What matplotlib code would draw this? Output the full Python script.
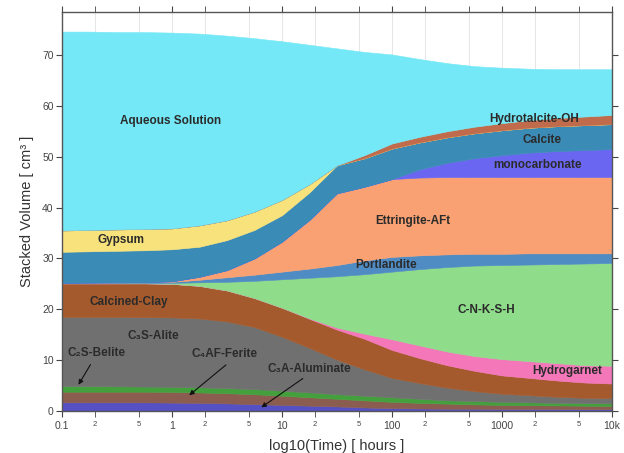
import numpy as np
import matplotlib
matplotlib.use("Agg")
import matplotlib.pyplot as plt
from matplotlib.ticker import FixedLocator, FixedFormatter

plt.rcParams['font.family'] = ['Liberation Sans', 'DejaVu Sans']

# time in hours (log10 steps of 0.25 from 0.1 h to 10k h)
time_h = [0.1, 0.178, 0.316, 0.562, 1, 1.78, 3.16, 5.62, 10, 17.8, 31.6,
          56.2, 100, 178, 316, 562, 1000, 1780, 3160, 5620, 10000]

# phase volumes [cm3], stacked from bottom to top
c3a = [1.7, 1.7, 1.7, 1.7, 1.65, 1.6, 1.5, 1.35, 1.2, 1.05, 0.9, 0.7, 0.55,
       0.5, 0.45, 0.45, 0.4, 0.4, 0.4, 0.35, 0.35]
c4af = [2.1, 2.1, 2.1, 2.1, 2.1, 2.05, 2.0, 1.95, 1.8, 1.65, 1.5, 1.4, 1.25,
        1.1, 1.0, 0.85, 0.8, 0.75, 0.7, 0.7, 0.65]
c2s = [1.1, 1.1, 1.05, 1.0, 1.0, 1.0, 1.0, 1.0, 1.0, 0.95, 0.9, 0.9, 0.9,
       0.8, 0.65, 0.65, 0.6, 0.55, 0.5, 0.5, 0.5]
c3s = [13.6, 13.6, 13.65, 13.65, 13.65, 13.55, 13.1, 12.2, 10.6, 8.75, 6.8,
       5.2, 3.8, 3.1, 2.5, 1.95, 1.6, 1.4, 1.2, 1.05, 1.0]
clay = [6.6, 6.6, 6.6, 6.65, 6.6, 6.4, 6.1, 5.7, 5.7, 5.7, 5.9, 6.0, 5.5,
        4.9, 4.4, 4.0, 3.6, 3.4, 3.2, 3.0, 2.9]
hydrogarnet = [0, 0, 0, 0, 0, 0, 0, 0, 0, 0.1, 0.4, 1.0, 2.1, 2.5, 2.7, 2.9,
               3.2, 3.3, 3.4, 3.4, 3.5]
cnksh = [0.05, 0.1, 0.1, 0.1, 0.2, 0.7, 1.7, 3.4, 5.6, 8.0, 10.1, 11.7, 13.3,
         15.0, 16.6, 17.8, 18.5, 19.0, 19.5, 20.0, 20.2]
portlandite = [0.05, 0.05, 0.1, 0.1, 0.2, 0.5, 0.9, 1.2, 1.5, 1.8, 2.2, 2.7,
               2.9, 2.7, 2.5, 2.3, 2.2, 2.2, 2.1, 2.0, 1.9]
ettringite = [0, 0, 0, 0.05, 0.1, 0.6, 1.4, 3.2, 5.9, 9.6, 14.1, 14.5, 15.3,
              15.3, 15.2, 15.1, 15.1, 15.0, 15.0, 15.0, 15.0]
monocarbonate = [0, 0, 0, 0, 0, 0, 0, 0, 0, 0, 0, 0, 0, 1.6, 2.8, 3.7, 4.3,
                 4.8, 5.1, 5.3, 5.5]
calcite = [6.1, 6.15, 6.2, 6.25, 6.3, 5.9, 5.9, 5.6, 5.2, 5.4, 5.5, 5.6, 6.0,
           5.3, 5.0, 4.9, 4.9, 4.9, 4.9, 4.9, 4.9]
gypsum = [4.2, 4.2, 4.2, 4.2, 4.1, 4.2, 3.9, 3.6, 3.0, 1.6, 0, 0, 0, 0, 0, 0,
          0, 0, 0, 0, 0]
hydrotalcite = [0, 0, 0, 0, 0, 0, 0, 0, 0, 0, 0, 0.6, 1.0, 1.1, 1.2, 1.3,
                1.4, 1.5, 1.6, 1.7, 1.8]
aqueous = [39.1, 39.0, 38.8, 38.7, 38.5, 37.7, 36.3, 34.1, 31.2, 27.4, 23.0,
           20.3, 17.5, 15.3, 13.4, 11.9, 10.9, 10.1, 9.6, 9.3, 9.0]

layers = [c3a, c4af, c2s, c3s, clay, hydrogarnet, cnksh, portlandite,
          ettringite, monocarbonate, calcite, gypsum, hydrotalcite, aqueous]
colors = ['#5551c4', '#8b5d50', '#43a03c', '#707070', '#a45a2c', '#f377b9',
          '#8fdc8b', '#4f8cc4', '#f9a172', '#6a66f2', '#3a8bb6', '#f8e27c',
          '#c06b4c', '#74e8f6']

major_ticks = [0.1, 1, 10, 100, 1000, 10000]
major_labels = ['0.1', '1', '10', '100', '1000', '10k']
minor_ticks = [0.2, 0.5, 2, 5, 20, 50, 200, 500, 2000, 5000]
minor_labels = ['2', '5', '2', '5', '2', '5', '2', '5', '2', '5']

fig = plt.figure(figsize=(6.24, 4.53), dpi=100)
ax = fig.add_axes([0.0994, 0.0927, 0.8814, 0.8808])
ax.set_xscale('log')

ax.stackplot(time_h, *layers, colors=colors, linewidth=0.4,
             edgecolor='face', zorder=2)

ax.set_xlim(0.1, 10000)
ax.set_ylim(0, 78.45)

ax.xaxis.set_major_locator(FixedLocator(major_ticks))
ax.xaxis.set_major_formatter(FixedFormatter(major_labels))
ax.xaxis.set_minor_locator(FixedLocator(minor_ticks))
ax.xaxis.set_minor_formatter(FixedFormatter(minor_labels))
ax.set_yticks([0, 10, 20, 30, 40, 50, 60, 70])

ax.tick_params(axis='x', which='major', labelsize=7.5, colors='#444444',
               direction='out', length=4, top=True, pad=3)
ax.tick_params(axis='x', which='minor', labelsize=5.5, colors='#444444',
               direction='out', length=4, top=True, pad=3)
ax.tick_params(axis='y', which='major', labelsize=7.5, colors='#444444',
               direction='out', length=4, right=True, pad=2)
for lab in ax.get_xticklabels() + ax.get_xticklabels(minor=True) + ax.get_yticklabels():
    lab.set_color('#444444')

ax.grid(True, axis='x', which='both', color='#e6e6e6', linewidth=0.7, zorder=0)
ax.set_axisbelow(True)
for s in ax.spines.values():
    s.set_color('#555555')
    s.set_linewidth(1.0)

ax.set_xlabel('log10(Time) [ hours ]', fontsize=10.5, color='#333333', labelpad=6)
ax.set_ylabel('Stacked Volume [ cm³ ]', fontsize=10.5, color='#333333', labelpad=6)

tc = '#2b2b2b'
kw = dict(fontsize=8.5, fontweight='bold', color=tc, ha='center', va='center', zorder=5)
ax.text(0.96, 57.0, 'Aqueous Solution', **kw)
ax.text(0.343, 33.6, 'Gypsum', **kw)
ax.text(0.406, 21.4, 'Calcined-Clay', **kw)
ax.text(0.671, 14.7, 'C₃S-Alite', **kw)
ax.text(0.204, 11.4, 'C₂S-Belite', **kw)
ax.text(3.03, 11.2, 'C₄AF-Ferite', **kw)
ax.text(17.6, 8.3, 'C₃A-Aluminate', **kw)
ax.text(155, 37.4, 'Ettringite-AFt', **kw)
ax.text(88, 28.7, 'Portlandite', **kw)
ax.text(716, 19.9, 'C-N-K-S-H', **kw)
ax.text(3890, 7.9, 'Hydrogarnet', **kw)
ax.text(2080, 48.4, 'monocarbonate', **kw)
ax.text(2310, 53.3, 'Calcite', **kw)
ax.text(1950, 57.4, 'Hydrotalcite-OH', **kw)

akw = dict(arrowstyle='-|>', color='#111111', lw=0.8, mutation_scale=7)
ax.annotate('', xy=(0.137, 4.7), xytext=(0.187, 9.6), arrowprops=akw, zorder=6)
ax.annotate('', xy=(1.37, 2.75), xytext=(3.23, 9.4), arrowprops=akw, zorder=6)
ax.annotate('', xy=(6.18, 0.4), xytext=(16.2, 6.7), arrowprops=akw, zorder=6)

fig.savefig('out.png', dpi=100)
